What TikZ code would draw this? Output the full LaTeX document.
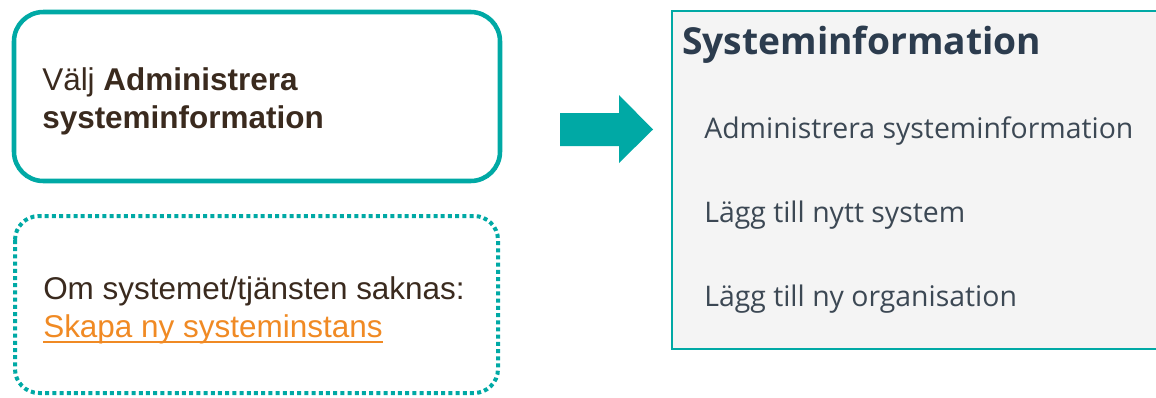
\documentclass[tikz,border=0pt]{standalone}
\usepackage{fontspec}
\setmainfont{Liberation Sans}
\newfontfamily\panelfont{Open Sans}
\usepackage{tikz}
\definecolor{tealline}{RGB}{0, 169, 165}
\definecolor{darktext}{RGB}{58, 42, 30}
\definecolor{linkorange}{RGB}{240, 138, 36}
\definecolor{panelbg}{RGB}{244, 244, 244}
\definecolor{paneltitle}{RGB}{44, 60, 78}
\definecolor{panelitem}{RGB}{60, 72, 84}
\usetikzlibrary{positioning, calc}

\begin{document}
\begin{tikzpicture}[
    x=0.75pt, y=-0.75pt,
    stepbox/.style={draw=tealline, line width=3.4pt, rounded corners=22pt},
    optbox/.style={draw=tealline, line width=3pt, rounded corners=18pt, dash pattern=on 3pt off 2.4pt},
    lefttext/.style={anchor=base west, inner sep=0pt, text=darktext, font=\fontsize{23.6}{28}\selectfont},
    paneltitle/.style={anchor=base west, inner sep=0pt, text=paneltitle, font=\panelfont\fontsize{27.9}{34}\selectfont\bfseries},
    panelitem/.style={anchor=base west, inner sep=0pt, text=panelitem, font=\panelfont\fontsize{21.3}{26}\selectfont},
    arrowfill/.style={fill=tealline}
]
    \useasboundingbox (0,0) rectangle (1156,397);

    % Left boxes
    \draw[stepbox] (14,12) rectangle (500,181);
    \node[lefttext] (valj) at (42,90) {Välj \textbf{Administrera}};
    \node[lefttext] (valj2) at (42,128) {\textbf{systeminformation}};

    \draw[optbox] (15,216) rectangle (498,393);
    \node[lefttext] (saknas) at (43,299) {Om systemet/tjänsten saknas:};
    \node[lefttext, text=linkorange] (skapa) at (43,337) {Skapa ny systeminstans};
    \draw[linkorange, line width=1.3pt] ($(skapa.base west)+(0,5)$) -- ($(skapa.base east)+(0,5)$);

    % Arrow
    \fill[arrowfill] (560,113) -- (619,113) -- (619,95) -- (653,129.5)
        -- (619,163) -- (619,146) -- (560,146) -- cycle;

    % Panel
    \draw[fill=panelbg, draw=tealline, line width=1.3pt] (672,11) rectangle (1175,349);
    \node[paneltitle] (title) at (682,54) {Systeminformation};
    \node[panelitem] (admin) at (704,138) {Administrera systeminformation};
    \node[panelitem] (nytt) at (704,222) {Lägg till nytt system};
    \node[panelitem] (org) at (704,306) {Lägg till ny organisation};

\end{tikzpicture}
\end{document}
